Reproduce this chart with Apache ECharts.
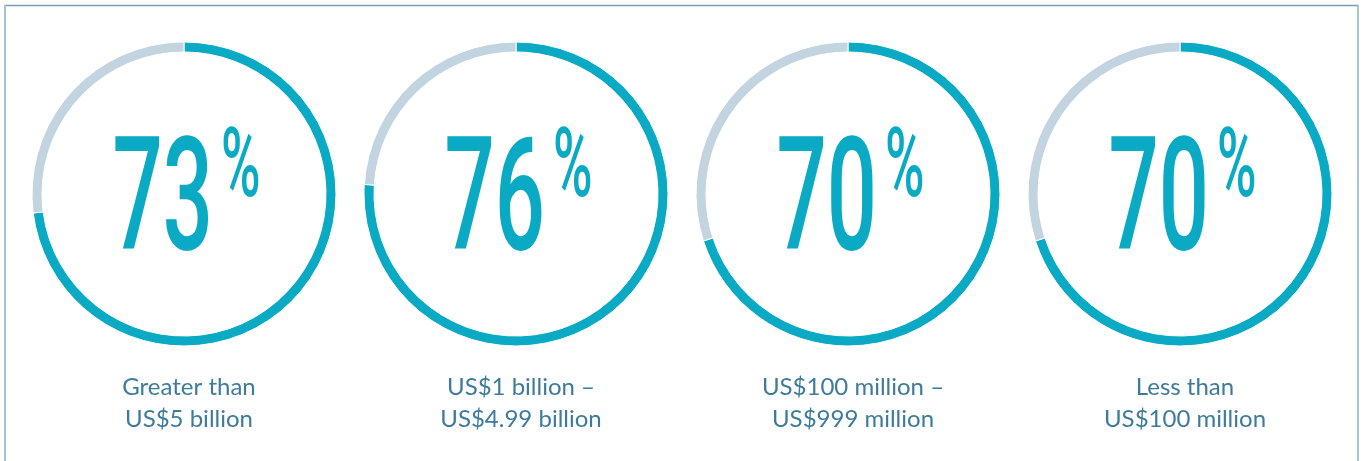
<!DOCTYPE html>
<html>
<head>
<meta charset="utf-8">
<script src="https://cdn.jsdelivr.net/npm/echarts@6/dist/echarts.min.js"></script>
<style>
  html, body { margin: 0; padding: 0; background: #fff; }
  #chart { width: 1365px; height: 461px; }
</style>
</head>
<body>
<div id="chart"></div>
<script>
// 数据
const categories = ['Greater than\nUS$5 billion', 'US$1 billion –\nUS$4.99 billion', 'US$100 million –\nUS$999 million', 'Less than\nUS$100 million']
const percents = [73, 76, 70, 70]
const centersX = [184, 516, 848, 1180]

const teal = '#0aaac5'
const rest = '#c3d4e1'
const labelColor = '#3d7b9c'
const cy = 194

let chart = echarts.init(document.getElementById('chart'))

let series = []
let titles = []
let graphics = [
  // 外框
  { type: 'line', shape: { x1: 4, y1: 5.5, x2: 1358, y2: 5.5 }, style: { stroke: '#7c9db2', lineWidth: 1.5 } },
  { type: 'line', shape: { x1: 5, y1: 5, x2: 5, y2: 470 }, style: { stroke: '#a6c3d3', lineWidth: 2 } },
  { type: 'line', shape: { x1: 1358, y1: 5, x2: 1358, y2: 470 }, style: { stroke: '#8fb0c3', lineWidth: 1.5 } }
]

percents.forEach((p, i) => {
  let cx = centersX[i]
  series.push({
    type: 'pie',
    center: [cx, cy],
    radius: [142, 152],
    startAngle: 90,
    clockwise: true,
    silent: true,
    label: { show: false },
    labelLine: { show: false },
    itemStyle: { borderColor: '#fff', borderWidth: 1 },
    data: [
      { value: p, itemStyle: { color: teal } },
      { value: 100 - p, itemStyle: { color: rest } }
    ]
  })
  // 大数字
  graphics.push({
    type: 'text',
    x: cx + 29,
    y: 209,
    scaleX: 0.56,
    style: { text: String(p), font: '500 158px Roboto', fill: teal, align: 'right', verticalAlign: 'middle' }
  })
  graphics.push({
    type: 'text',
    x: cx + 37,
    y: 172,
    scaleX: 0.56,
    style: { text: '%', font: '500 96px Roboto', fill: teal, align: 'left', verticalAlign: 'middle' }
  })
  titles.push({
    text: categories[i],
    left: cx,
    top: 366,
    textAlign: 'center',
    textStyle: { fontFamily: 'Lato', fontSize: 24, fontWeight: 400, color: labelColor, lineHeight: 32 }
  })
})

chart.setOption({
  animation: false,
  title: titles,
  series: series,
  graphic: graphics
})
</script>
</body>
</html>
